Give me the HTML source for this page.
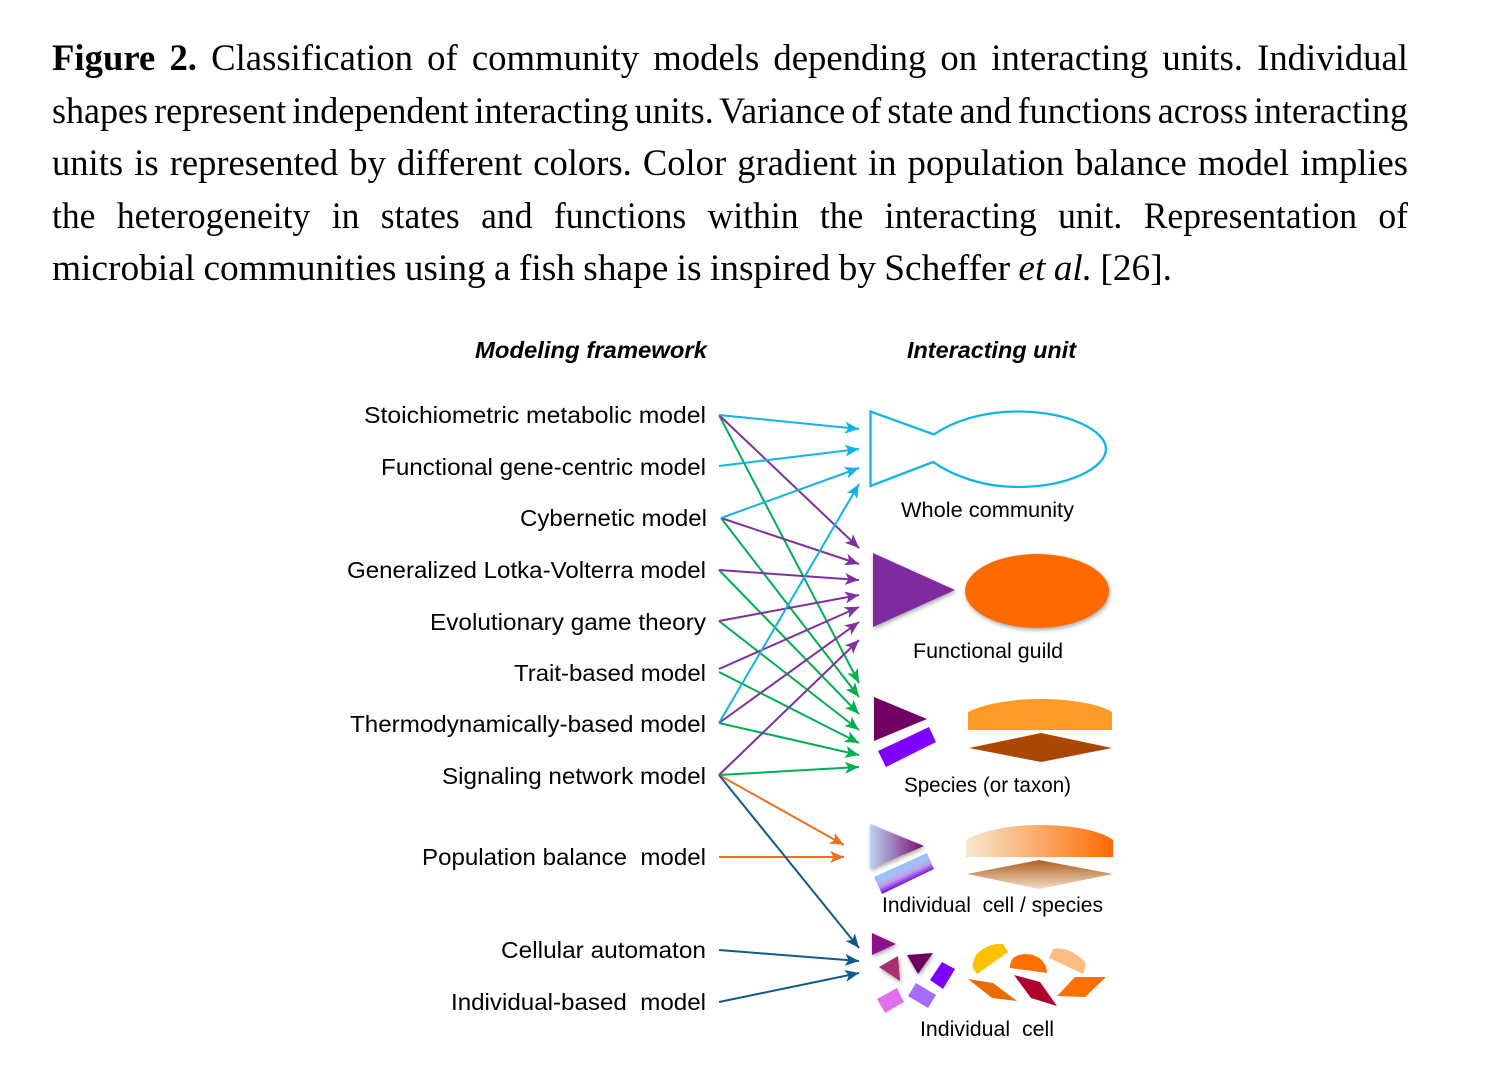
<!DOCTYPE html>
<html><head><meta charset="utf-8"><style>
html,body{margin:0;padding:0;background:#fff}
svg{display:block}
.b{font-family:"Liberation Serif",serif;font-size:37px;fill:#000}
.l{font-family:"Liberation Sans",sans-serif;font-size:23px;fill:#000}
.h{font-family:"Liberation Sans",sans-serif;font-size:23px;font-weight:bold;font-style:italic;fill:#000}
.s{filter:drop-shadow(1px 2px 2px rgba(0,0,0,.35))}
line{stroke-width:2}
</style></head><body>
<svg width="1496" height="1086" viewBox="0 0 1496 1086" xmlns="http://www.w3.org/2000/svg">
<defs>
<marker id="c" markerUnits="userSpaceOnUse" markerWidth="16" markerHeight="14" refX="14" refY="6.500" orient="auto"><path d="M0 0.500L14 6.500L0 12.500L3.500 6.500Z" fill="#10b4e6"/></marker>
<marker id="p" markerUnits="userSpaceOnUse" markerWidth="16" markerHeight="14" refX="14" refY="6.500" orient="auto"><path d="M0 0.500L14 6.500L0 12.500L3.500 6.500Z" fill="#7f30a0"/></marker>
<marker id="g" markerUnits="userSpaceOnUse" markerWidth="16" markerHeight="14" refX="14" refY="6.500" orient="auto"><path d="M0 0.500L14 6.500L0 12.500L3.500 6.500Z" fill="#00b050"/></marker>
<marker id="o" markerUnits="userSpaceOnUse" markerWidth="16" markerHeight="14" refX="14" refY="6.500" orient="auto"><path d="M0 0.500L14 6.500L0 12.500L3.500 6.500Z" fill="#f07020"/></marker>
<marker id="n" markerUnits="userSpaceOnUse" markerWidth="16" markerHeight="14" refX="14" refY="6.500" orient="auto"><path d="M0 0.500L14 6.500L0 12.500L3.500 6.500Z" fill="#0f5a8c"/></marker>
<linearGradient id="g1" x1="0" x2="1" y1="0" y2="0"><stop offset="0" stop-color="#bcd4f0"/><stop offset="1" stop-color="#760a70"/></linearGradient>
<linearGradient id="g2" gradientUnits="userSpaceOnUse" x1="897" y1="860" x2="908" y2="884"><stop offset=".1" stop-color="#85c8f2"/><stop offset=".45" stop-color="#a8bcf2"/><stop offset=".65" stop-color="#c09cf0"/><stop offset=".95" stop-color="#7000d8"/></linearGradient>
<linearGradient id="g3" x1="0" x2="1" y1="0" y2="0"><stop offset="0" stop-color="#f6e8d0"/><stop offset="1" stop-color="#ff6a00"/></linearGradient>
<linearGradient id="g4" x1="0" x2="0" y1="0" y2="1"><stop offset="0" stop-color="#ad5f20"/><stop offset="1" stop-color="#f2dcc6"/></linearGradient>
</defs>

<text class="b" x="52" y="70" textLength="1356" lengthAdjust="spacingAndGlyphs" word-spacing="5"><tspan font-weight="bold">Figure 2.</tspan> Classification of community models depending on interacting units. Individual</text>
<text class="b" x="52" y="123" textLength="1356" lengthAdjust="spacingAndGlyphs" word-spacing="-3">shapes represent independent interacting units. Variance of state and functions across interacting</text>
<text class="b" x="52" y="175" textLength="1356" lengthAdjust="spacingAndGlyphs" word-spacing="2">units is represented by different colors. Color gradient in population balance model implies</text>
<text class="b" x="52" y="228" textLength="1356" lengthAdjust="spacingAndGlyphs" word-spacing="13">the heterogeneity in states and functions within the interacting unit. Representation of</text>
<text class="b" x="52" y="280" textLength="1120" lengthAdjust="spacingAndGlyphs" word-spacing="-1">microbial communities using a fish shape is inspired by Scheffer <tspan font-style="italic">et al.</tspan> [26].</text>

<text class="h" x="475" y="358" textLength="232" lengthAdjust="spacingAndGlyphs">Modeling framework</text>
<text class="h" x="907" y="358" textLength="169" lengthAdjust="spacingAndGlyphs">Interacting unit</text>

<text class="l" x="364" y="423" textLength="342" lengthAdjust="spacingAndGlyphs">Stoichiometric metabolic model</text>
<text class="l" x="381" y="475" textLength="325" lengthAdjust="spacingAndGlyphs">Functional gene-centric model</text>
<text class="l" x="520" y="526" textLength="187" lengthAdjust="spacingAndGlyphs">Cybernetic model</text>
<text class="l" x="347" y="578" textLength="359" lengthAdjust="spacingAndGlyphs">Generalized Lotka-Volterra model</text>
<text class="l" x="430" y="630" textLength="276" lengthAdjust="spacingAndGlyphs">Evolutionary game theory</text>
<text class="l" x="514" y="681" textLength="192" lengthAdjust="spacingAndGlyphs">Trait-based model</text>
<text class="l" x="350" y="732" textLength="356" lengthAdjust="spacingAndGlyphs">Thermodynamically-based model</text>
<text class="l" x="442" y="784" textLength="264" lengthAdjust="spacingAndGlyphs">Signaling network model</text>
<text class="l" x="422" y="865" textLength="284" lengthAdjust="spacingAndGlyphs" xml:space="preserve">Population balance  model</text>
<text class="l" x="501" y="958" textLength="205" lengthAdjust="spacingAndGlyphs">Cellular automaton</text>
<text class="l" x="451" y="1010" textLength="255" lengthAdjust="spacingAndGlyphs" xml:space="preserve">Individual-based  model</text>

<text class="l" x="901" y="517" textLength="173" lengthAdjust="spacingAndGlyphs" style="font-size:21px">Whole community</text>
<text class="l" x="913" y="658" textLength="150" lengthAdjust="spacingAndGlyphs" style="font-size:21px">Functional guild</text>
<text class="l" x="904" y="792" textLength="167" lengthAdjust="spacingAndGlyphs" style="font-size:21px">Species (or taxon)</text>
<text class="l" x="882" y="912" textLength="221" lengthAdjust="spacingAndGlyphs" style="font-size:21px" xml:space="preserve">Individual  cell / species</text>
<text class="l" x="920" y="1036" textLength="134" lengthAdjust="spacingAndGlyphs" style="font-size:21px" xml:space="preserve">Individual  cell</text>

<g stroke="#00b050">
<line x1="719" y1="415" x2="859" y2="683" marker-end="url(#g)"/>
<line x1="721" y1="518" x2="859" y2="697" marker-end="url(#g)"/>
<line x1="719" y1="570" x2="859" y2="714" marker-end="url(#g)"/>
<line x1="719" y1="621" x2="859" y2="730" marker-end="url(#g)"/>
<line x1="719" y1="672" x2="859" y2="743" marker-end="url(#g)"/>
<line x1="719" y1="723" x2="859" y2="755" marker-end="url(#g)"/>
<line x1="719" y1="775" x2="859" y2="767" marker-end="url(#g)"/>
</g>
<g stroke="#7f30a0">
<line x1="719" y1="415" x2="859" y2="548" marker-end="url(#p)"/>
<line x1="721" y1="518" x2="859" y2="564" marker-end="url(#p)"/>
<line x1="719" y1="570" x2="859" y2="580" marker-end="url(#p)"/>
<line x1="719" y1="621" x2="859" y2="595" marker-end="url(#p)"/>
<line x1="719" y1="669" x2="859" y2="607" marker-end="url(#p)"/>
<line x1="719" y1="723" x2="859" y2="622" marker-end="url(#p)"/>
<line x1="719" y1="775" x2="859" y2="640" marker-end="url(#p)"/>
</g>
<g stroke="#10b4e6">
<line x1="719" y1="415" x2="859" y2="429" marker-end="url(#c)"/>
<line x1="719" y1="466" x2="859" y2="449" marker-end="url(#c)"/>
<line x1="721" y1="518" x2="859" y2="468" marker-end="url(#c)"/>
<line x1="719" y1="723" x2="859" y2="484" marker-end="url(#c)"/>
</g>
<g stroke="#f07020">
<line x1="719" y1="775" x2="844" y2="845" marker-end="url(#o)"/>
<line x1="719" y1="857" x2="844" y2="857" marker-end="url(#o)"/>
</g>
<g stroke="#0f5a8c">
<line x1="719" y1="775" x2="859" y2="948" marker-end="url(#n)"/>
<line x1="719" y1="950" x2="859" y2="961" marker-end="url(#n)"/>
<line x1="719" y1="1002" x2="859" y2="973" marker-end="url(#n)"/>
</g>

<path d="M870.500 411.500L934 434.500C955 420 985 411.500 1017 411.500C1070 411.500 1106 431 1106 449C1106 467 1070 487 1017 487C985 487 955 477 933 462L870.500 486Z" fill="#fff" stroke="#10b4e6" stroke-width="2.300"/>

<polygon class="s" points="873,553 955,590 873,627" fill="#7f2ba0"/>
<ellipse class="s" cx="1037" cy="591" rx="72" ry="37" fill="#ff6a00"/>

<polygon points="874,697 927,719 874,741" fill="#700064"/>
<polygon points="878,751 929,727 936,742 886,767" fill="#7f00ff"/>
<path d="M968 730L968 712C985 703 1015 699 1040 699C1070 699 1100 704 1112 712L1112 730Z" fill="#ff9a26"/>
<polygon points="969,748 1041,733 1112,748 1041,762" fill="#ab4700"/>

<polygon class="s" points="870,824 924,846 870,869" fill="url(#g1)"/>
<polygon points="874,877 927,853 934,869 882,894" fill="url(#g2)"/>
<path d="M966 857L966 840C982 830 1012 825 1040 825C1070 825 1100 830 1113 840L1113 857Z" fill="url(#g3)"/>
<polygon points="967,874 1039,860 1113,874 1039,889" fill="url(#g4)"/>

<polygon class="s" points="872,933 896,944 872,955" fill="#90108a"/>
<polygon class="s" points="898,956 879,967 900,981" fill="#a93070"/>
<polygon class="s" points="907,955 933,953 918,974" fill="#6f0060"/>
<polygon points="942,962 955,969 943,989 930,980" fill="#7f00ff"/>
<polygon points="916,983 936,995 928,1008 908,996" fill="#a66bff"/>
<polygon points="897,988 904,1002 885,1013 877,999" fill="#e070f0"/>
<path d="M977 974L1008 952L1003 944C995 943 985 946 978 953C973 958 972 966 973 968Z" fill="#ffc000"/>
<path d="M1010 968C1010 960 1013 955 1025 954C1038 954 1047 962 1047 973Z" fill="#ff7000"/>
<path d="M1049 958L1053 949C1060 947 1070 950 1077 955C1084 960 1086 963 1086 965L1083 974Z" fill="#ffbd85"/>
<polygon points="968,979 993,983 1017,1001 992,998" fill="#e86c00"/>
<polygon points="1014,975 1040,982 1057,1006 1031,998" fill="#b0002e"/>
<polygon points="1075,977 1106,977 1085,997 1057,996" fill="#ff7000"/>
</svg>
</body></html>
